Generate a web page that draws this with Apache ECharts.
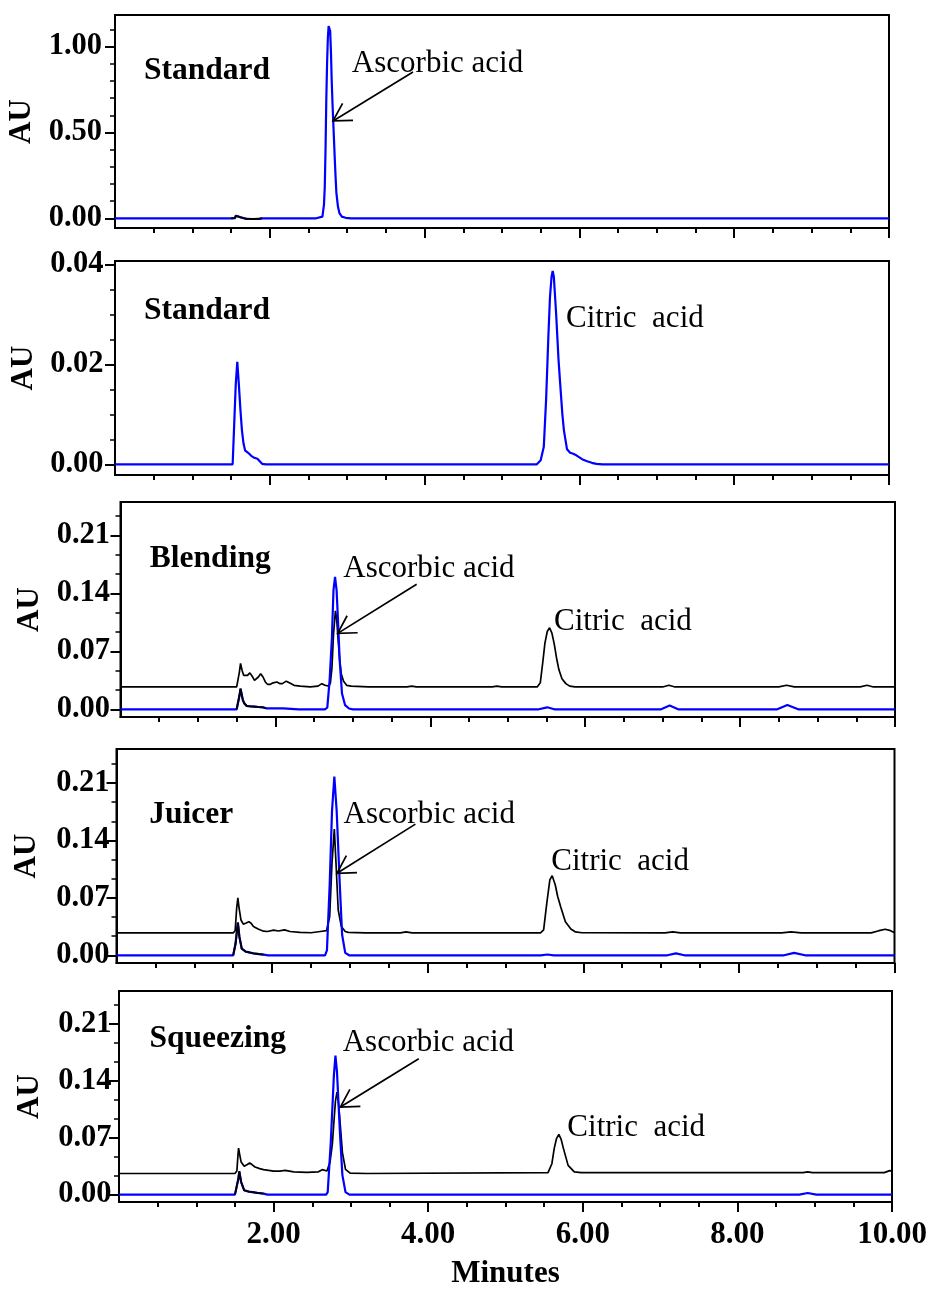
<!DOCTYPE html>
<html>
<head>
<meta charset="utf-8">
<title>HPLC chromatograms</title>
<script src="https://cdn.jsdelivr.net/npm/echarts@6/dist/echarts.min.js"></script>
<style>
  html, body { margin: 0; padding: 0; background: #fff; }
  #chart { width: 931px; height: 1289px; }
</style>
</head>
<body>
<div id="chart"></div>
<script>
// ---- Retention-time axis (minutes) ----
const timeMajorTicks = [2, 4, 6, 8, 10];
const timeMinorTicks = [0.5, 1, 1.5, 2.5, 3, 3.5, 4.5, 5, 5.5, 6.5, 7, 7.5, 8.5, 9, 9.5];

// ---- Absorbance axes (AU) ----
const auMajorStdA = [0, 0.5, 1.0];
const auMinorStdA = [0.1, 0.2, 0.3, 0.4, 0.6, 0.7, 0.8, 0.9, 1.1];
const auMajorStdC = [0, 0.02, 0.04];
const auMinorStdC = [0.005, 0.01, 0.015, 0.025, 0.03, 0.035];
const auMajorSample = [0, 0.07, 0.14, 0.21];
const auMinorSample = [0.02333, 0.04667, 0.09333, 0.11667, 0.16333, 0.18667, 0.23333];

// ---- Traces: [minutes, AU] ----
// Ascorbic acid standard
const ascorbicStdTrace = [
  [0, 0], [1.50, 0], [1.55, 0.001], [1.56, 0.015], [1.58, 0.011], [1.62, 0.006], [1.66, 0.001],
  [1.70, -0.003], [1.78, -0.004], [1.86, -0.003], [1.90, 0], [2.60, 0], [2.68, 0.01], [2.70, 0.08],
  [2.71, 0.18], [2.72, 0.40], [2.73, 0.69], [2.74, 0.90], [2.75, 1.05], [2.76, 1.12], [2.77, 1.13],
  [2.78, 1.09], [2.79, 0.97], [2.80, 0.80], [2.81, 0.67], [2.82, 0.56], [2.83, 0.45], [2.84, 0.34],
  [2.85, 0.24], [2.86, 0.15], [2.88, 0.07], [2.90, 0.03], [2.93, 0.01], [2.98, 0.003], [3.05, 0], [10, 0]
];
// Citric acid standard
const citricStdTrace = [
  [0, 0], [1.52, 0], [1.54, 0.008], [1.56, 0.016], [1.58, 0.0205], [1.60, 0.016], [1.62, 0.011],
  [1.64, 0.0068], [1.66, 0.0042], [1.68, 0.0028], [1.72, 0.0023], [1.76, 0.0017], [1.80, 0.0013],
  [1.84, 0.0011], [1.87, 0.0006], [1.90, 0.0001], [1.95, 0], [5.45, 0], [5.50, 0.0008], [5.54, 0.0035],
  [5.57, 0.013], [5.60, 0.026], [5.62, 0.0335], [5.64, 0.0375], [5.655, 0.0387], [5.67, 0.0375],
  [5.70, 0.030], [5.73, 0.021], [5.75, 0.0165], [5.78, 0.0100], [5.80, 0.0068], [5.84, 0.0030],
  [5.88, 0.0023], [5.92, 0.0021], [5.96, 0.0018], [6.00, 0.0014], [6.05, 0.0009], [6.10, 0.0006],
  [6.16, 0.0003], [6.22, 0.0001], [6.30, 0], [10, 0]
];
// Blending
const blendingUpper = [
  [0, 0.027], [1.50, 0.027], [1.52, 0.029], [1.535, 0.045], [1.55, 0.0555], [1.57, 0.047], [1.59, 0.041],
  [1.61, 0.039], [1.64, 0.041], [1.67, 0.044], [1.70, 0.040], [1.73, 0.035], [1.75, 0.034], [1.78, 0.039],
  [1.81, 0.043], [1.84, 0.039], [1.87, 0.033], [1.90, 0.030], [1.93, 0.030], [1.97, 0.032], [2.02, 0.033],
  [2.06, 0.031], [2.09, 0.031], [2.14, 0.034], [2.18, 0.032], [2.24, 0.029], [2.32, 0.028], [2.45, 0.027],
  [2.55, 0.028], [2.60, 0.031], [2.64, 0.029], [2.69, 0.028], [2.71, 0.032], [2.73, 0.050], [2.75, 0.090],
  [2.775, 0.119], [2.79, 0.110], [2.81, 0.084], [2.83, 0.060], [2.85, 0.043], [2.88, 0.034], [2.92, 0.029],
  [2.98, 0.028], [3.20, 0.027], [3.70, 0.027], [3.76, 0.028], [3.82, 0.027], [4.80, 0.027], [4.86, 0.028],
  [4.92, 0.027], [5.38, 0.027], [5.42, 0.032], [5.45, 0.055], [5.48, 0.080], [5.51, 0.094], [5.54, 0.0985],
  [5.57, 0.092], [5.60, 0.079], [5.63, 0.062], [5.66, 0.048], [5.70, 0.037], [5.75, 0.031], [5.80, 0.028],
  [5.87, 0.027], [7.00, 0.027], [7.08, 0.029], [7.16, 0.027], [8.50, 0.027], [8.60, 0.029], [8.70, 0.027],
  [9.55, 0.027], [9.64, 0.029], [9.72, 0.027], [10, 0.027]
];
const blendingLower = [
  [0, 0], [1.50, 0], [1.52, 0.002], [1.535, 0.016], [1.55, 0.025], [1.565, 0.018], [1.58, 0.011],
  [1.60, 0.007], [1.63, 0.004], [1.68, 0.0035], [1.72, 0.0033], [1.78, 0.0028], [1.84, 0.0024],
  [1.88, 0.0012], [1.92, 0.001], [2.00, 0.0012], [2.10, 0.001], [2.20, 0.0005], [2.30, 0], [2.64, 0],
  [2.67, 0.002], [2.70, 0.035], [2.73, 0.087], [2.75, 0.144], [2.77, 0.160], [2.79, 0.144], [2.81, 0.104],
  [2.83, 0.059], [2.86, 0.019], [2.90, 0.005], [2.95, 0.001], [3.00, 0], [5.40, 0], [5.51, 0.0024],
  [5.60, 0], [6.98, 0], [7.09, 0.0045], [7.20, 0], [8.48, 0], [8.61, 0.0052], [8.75, 0], [10, 0]
];
// Juicer
const juicerUpper = [
  [0, 0.0273], [1.50, 0.0273], [1.525, 0.030], [1.545, 0.058], [1.56, 0.070], [1.575, 0.058], [1.60, 0.043],
  [1.63, 0.038], [1.66, 0.039], [1.70, 0.041], [1.73, 0.039], [1.76, 0.035], [1.82, 0.032], [1.89, 0.0294],
  [1.94, 0.029], [2.02, 0.0306], [2.08, 0.0296], [2.16, 0.031], [2.23, 0.029], [2.36, 0.028], [2.50, 0.0275],
  [2.62, 0.029], [2.70, 0.030], [2.72, 0.031], [2.74, 0.047], [2.77, 0.113], [2.80, 0.154], [2.82, 0.115],
  [2.85, 0.055], [2.89, 0.035], [2.94, 0.029], [2.98, 0.028], [3.20, 0.0273], [3.65, 0.0273], [3.72, 0.0285],
  [3.80, 0.0273], [5.45, 0.0273], [5.49, 0.031], [5.53, 0.063], [5.57, 0.092], [5.60, 0.097], [5.64, 0.0857],
  [5.67, 0.072], [5.71, 0.059], [5.77, 0.0408], [5.84, 0.032], [5.90, 0.0285], [5.98, 0.0275], [7.05, 0.0273],
  [7.15, 0.0285], [7.25, 0.0273], [8.55, 0.0273], [8.67, 0.0285], [8.80, 0.0273], [9.70, 0.0273],
  [9.80, 0.030], [9.88, 0.0318], [9.95, 0.030], [10, 0.0275]
];
const juicerLower = [
  [0, 0], [1.50, 0], [1.53, 0.014], [1.56, 0.040], [1.58, 0.0224], [1.61, 0.008], [1.66, 0.0045],
  [1.72, 0.0032], [1.76, 0.0024], [1.83, 0.0015], [1.89, 0.0008], [1.95, 0], [2.68, 0], [2.705, 0.006],
  [2.74, 0.086], [2.77, 0.176], [2.80, 0.218], [2.83, 0.176], [2.87, 0.086], [2.90, 0.025], [2.94, 0.003],
  [2.99, 0], [5.45, 0], [5.54, 0.001], [5.62, 0], [7.08, 0], [7.19, 0.0024], [7.30, 0], [8.58, 0],
  [8.71, 0.003], [8.85, 0], [10, 0]
];
// Squeezing
const squeezingUpper = [
  [0, 0.026], [1.50, 0.026], [1.525, 0.029], [1.54, 0.050], [1.547, 0.0573], [1.56, 0.050], [1.58, 0.040],
  [1.62, 0.035], [1.66, 0.037], [1.69, 0.0389], [1.72, 0.037], [1.76, 0.034], [1.82, 0.032], [1.87, 0.0307],
  [2.00, 0.029], [2.08, 0.029], [2.15, 0.0299], [2.26, 0.028], [2.43, 0.0274], [2.58, 0.028], [2.63, 0.0307],
  [2.69, 0.029], [2.73, 0.040], [2.76, 0.062], [2.78, 0.089], [2.80, 0.115], [2.82, 0.126], [2.84, 0.112],
  [2.86, 0.089], [2.89, 0.052], [2.93, 0.031], [2.99, 0.0265], [3.20, 0.026], [5.55, 0.027], [5.60, 0.038],
  [5.63, 0.0566], [5.66, 0.069], [5.69, 0.0742], [5.72, 0.068], [5.75, 0.0566], [5.81, 0.036], [5.89, 0.028],
  [5.98, 0.027], [8.85, 0.027], [8.91, 0.028], [8.97, 0.027], [9.90, 0.027], [9.97, 0.0295], [10, 0.029]
];
const squeezingLower = [
  [0, 0], [1.50, 0], [1.525, 0.002], [1.545, 0.020], [1.556, 0.0287], [1.58, 0.0155], [1.62, 0.0053],
  [1.68, 0.0037], [1.79, 0.0021], [1.87, 0.0012], [1.92, 0], [2.68, 0], [2.70, 0.003], [2.74, 0.065],
  [2.78, 0.147], [2.80, 0.171], [2.82, 0.151], [2.86, 0.073], [2.89, 0.024], [2.93, 0.003], [2.98, 0],
  [8.80, 0], [8.91, 0.002], [9.02, 0], [10, 0]
];

// Stretch of the lower trace drawn in black (solvent front)
const solventFrontWindow = [1.5, 1.9];

// ---- Panel captions and annotation anchors, in [minutes, AU] ----
const panelTitles = ['Standard', 'Standard', 'Blending', 'Juicer', 'Squeezing'];
const titleAnchors = [[0.375, 0.805], [0.375, 0.02886], [0.379, 0.1704], [0.422, 0.160], [0.394, 0.1803]];
const ascorbicLabelAnchors = [[3.06, 0.846], null, [2.876, 0.1583], [2.919, 0.160], [2.894, 0.1747]];
const ascorbicArrowTails = [[3.85, 0.852], null, [3.824, 0.151], [3.842, 0.160], [3.878, 0.1673]];
const ascorbicArrowTips = [[2.817, 0.567], null, [2.804, 0.0917], [2.834, 0.100], [2.864, 0.1078]];
const citricLabelAnchors = [null, [5.827, 0.0272], [5.598, 0.0936], [5.588, 0.1028], [5.80, 0.0709]];

const FONT = 'Liberation Serif, Times New Roman, serif';
const BLUE = '#0000ff';

const panels = [
  { upper: null, lower: ascorbicStdTrace, front: true, yMin: -0.0565, yMax: 1.184,
    major: auMajorStdA, minor: auMinorStdA, box: [115, 15, 774, 213], labelMargin: 13 },
  { upper: null, lower: citricStdTrace, front: false, yMin: -0.00214, yMax: 0.0407,
    major: auMajorStdC, minor: auMinorStdC, box: [115, 261, 774, 214], labelMargin: 11.5 },
  { upper: blendingUpper, lower: blendingLower, front: true, yMin: -0.0093, yMax: 0.2504,
    major: auMajorSample, minor: auMinorSample, box: [120.5, 502, 774.5, 215], labelMargin: 10.5 },
  { upper: juicerUpper, lower: juicerLower, front: true, yMin: -0.0094, yMax: 0.2516,
    major: auMajorSample, minor: auMinorSample, box: [116.5, 749, 778, 214], labelMargin: 7 },
  { upper: squeezingUpper, lower: squeezingLower, front: true, yMin: -0.0091, yMax: 0.2506,
    major: auMajorSample, minor: auMinorSample, box: [119, 991, 773, 211], labelMargin: 7.5 }
];

const grids = [], xAxes = [], yAxes = [], series = [];
const panelSeriesIndex = [];
const lastPanel = panels.length - 1;

panels.forEach((p, i) => {
  grids.push({
    left: p.box[0], top: p.box[1], width: p.box[2], height: p.box[3],
    show: true, borderColor: '#000', borderWidth: 2, backgroundColor: 'transparent',
    containLabel: false, outerBoundsMode: 'none'
  });
  const isBottom = i === lastPanel;
  // main time axis: long ticks at every 2 min
  xAxes.push({
    gridIndex: i, type: 'value', min: 0, max: 10, position: 'bottom',
    axisLine: { show: true, onZero: false, lineStyle: { color: '#000', width: 2 } },
    axisTick: { show: true, customValues: timeMajorTicks, length: 10, lineStyle: { color: '#000', width: 2 } },
    axisLabel: {
      show: isBottom, customValues: timeMajorTicks, margin: 17,
      formatter: v => v.toFixed(2),
      fontFamily: FONT, fontWeight: 'bold', fontSize: 31, color: '#000'
    },
    splitLine: { show: false },
    name: isBottom ? 'Minutes' : '', nameLocation: 'middle', nameGap: 56,
    nameTextStyle: { fontFamily: FONT, fontWeight: 'bold', fontSize: 31, color: '#000' }
  });
  // half-minute ticks
  xAxes.push({
    gridIndex: i, type: 'value', min: 0, max: 10, position: 'bottom',
    axisLine: { show: false, onZero: false },
    axisTick: { show: true, customValues: timeMinorTicks, length: 5, lineStyle: { color: '#000', width: 2 } },
    axisLabel: { show: false }, splitLine: { show: false }
  });
  yAxes.push({
    gridIndex: i, type: 'value', min: p.yMin, max: p.yMax, position: 'left',
    axisLine: { show: true, onZero: false, lineStyle: { color: '#000', width: 2 } },
    axisTick: { show: true, customValues: p.major, length: 10, lineStyle: { color: '#000', width: 2 } },
    axisLabel: {
      show: true, customValues: p.major, margin: p.labelMargin,
      formatter: v => v.toFixed(2),
      fontFamily: FONT, fontWeight: 'bold', fontSize: 30.5, color: '#000'
    },
    splitLine: { show: false },
    name: 'AU', nameLocation: 'middle', nameGap: 74, nameRotate: 90,
    nameTextStyle: { fontFamily: FONT, fontWeight: 'bold', fontSize: 31, color: '#000' }
  });
  yAxes.push({
    gridIndex: i, type: 'value', min: p.yMin, max: p.yMax, position: 'left',
    axisLine: { show: false, onZero: false },
    axisTick: { show: true, customValues: p.minor, length: 5, lineStyle: { color: '#000', width: 1.5 } },
    axisLabel: { show: false }, splitLine: { show: false }
  });

  const ax = { xAxisIndex: 2 * i, yAxisIndex: 2 * i };
  const lineBase = { type: 'line', showSymbol: false, symbol: 'none', smooth: false, animation: false,
    silent: true, clip: true };
  if (p.upper) {
    series.push(Object.assign({}, lineBase, ax, {
      name: 'sample', data: p.upper, lineStyle: { color: '#000', width: 1.7 }, z: 2
    }));
  }
  panelSeriesIndex.push(series.length);
  series.push(Object.assign({}, lineBase, ax, {
    name: 'reference', data: p.lower, lineStyle: { color: BLUE, width: 2.2 }, z: 3
  }));
  if (p.front) {
    series.push(Object.assign({}, lineBase, ax, {
      name: 'solvent front',
      data: p.lower.filter(d => d[0] >= solventFrontWindow[0] && d[0] <= solventFrontWindow[1]),
      lineStyle: { color: '#000', width: 1.9 }, z: 4
    }));
  }
});

const chart = echarts.init(document.getElementById('chart'), null, { renderer: 'canvas' });
chart.setOption({
  animation: false,
  backgroundColor: '#ffffff',
  grid: grids, xAxis: xAxes, yAxis: yAxes, series: series
});

// ---- Captions, compound labels and arrows, placed through each panel's scales ----
const graphics = [];
function addText(pt, text, bold, size) {
  graphics.push({
    type: 'text', x: pt[0], y: pt[1] - 0.305 * size, z: 10, silent: true,
    style: {
      text: text, fill: '#000', align: 'left', verticalAlign: 'middle',
      font: (bold ? 'bold ' : '') + size + 'px ' + FONT
    }
  });
}
function addArrow(tail, tip) {
  const ang = Math.atan2(tail[1] - tip[1], tail[0] - tip[0]);
  const len = 20, half = Math.PI / 6;
  const arm1 = [tip[0] + len * Math.cos(ang + half), tip[1] + len * Math.sin(ang + half)];
  const arm2 = [tip[0] + len * Math.cos(ang - half), tip[1] + len * Math.sin(ang - half)];
  graphics.push({
    type: 'line', z: 10, silent: true,
    shape: { x1: tail[0], y1: tail[1], x2: tip[0], y2: tip[1] },
    style: { stroke: '#000', lineWidth: 1.7 }
  });
  graphics.push({
    type: 'polyline', z: 10, silent: true,
    shape: { points: [arm1, tip, arm2] },
    style: { stroke: '#000', lineWidth: 1.7, fill: null }
  });
}

panels.forEach((p, i) => {
  const toPx = v => chart.convertToPixel({ seriesIndex: panelSeriesIndex[i] }, v);
  addText(toPx(titleAnchors[i]), panelTitles[i], true, 31.5);
  if (ascorbicLabelAnchors[i]) {
    addText(toPx(ascorbicLabelAnchors[i]), 'Ascorbic acid', false, 31);
    addArrow(toPx(ascorbicArrowTails[i]), toPx(ascorbicArrowTips[i]));
  }
  if (citricLabelAnchors[i]) {
    addText(toPx(citricLabelAnchors[i]), 'Citric  acid', false, 31);
  }
});

chart.setOption({ graphic: graphics });
</script>
</body>
</html>
